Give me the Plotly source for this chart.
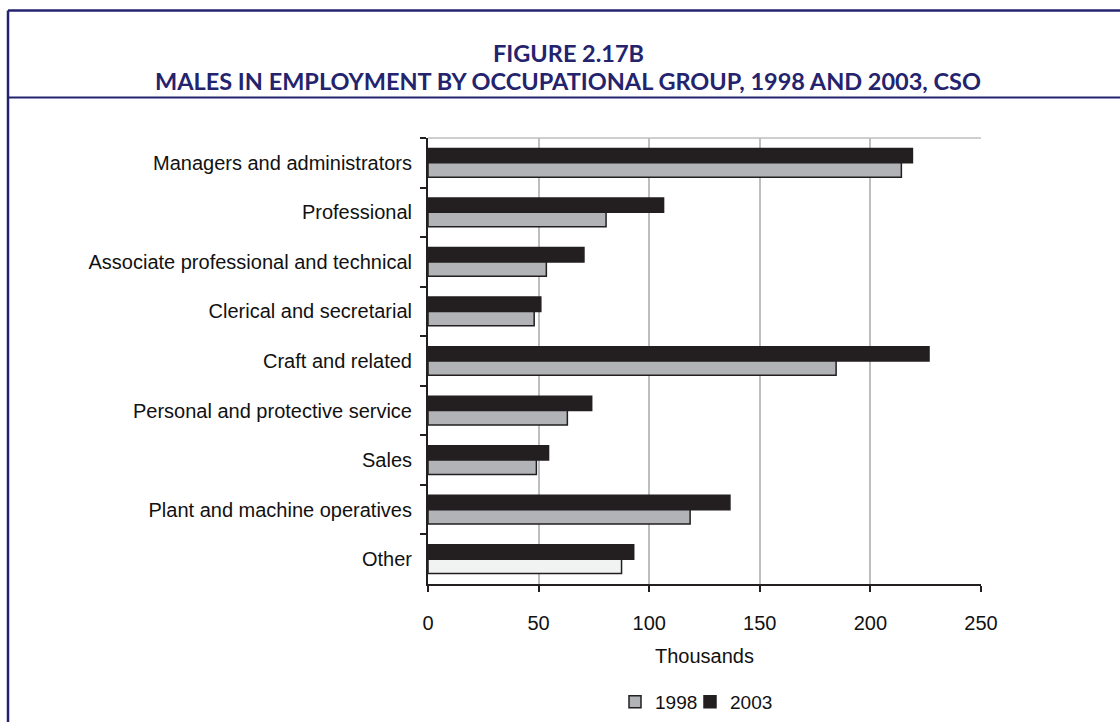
import plotly.graph_objects as go

# Occupational groups, listed top to bottom
categories = [
    "Managers and administrators",
    "Professional",
    "Associate professional and technical",
    "Clerical and secretarial",
    "Craft and related",
    "Personal and protective service",
    "Sales",
    "Plant and machine operatives",
    "Other",
]
# Males in employment, thousands
males_1998 = [214, 80.5, 53.5, 48, 184.5, 63, 49, 118.5, 87.5]
males_2003 = [219, 106.5, 70.5, 51, 226.5, 74, 54.5, 136.5, 93]
x_ticks = [0, 50, 100, 150, 200, 250]

title_line1 = "FIGURE 2.17B"
title_line2 = "MALES IN EMPLOYMENT BY OCCUPATIONAL GROUP, 1998 AND 2003, CSO"

W, H = 1120, 722
L, R, T, B = 428, 981, 138, 584  # plot area in pixels

NAVY = "#24236e"
INK = "#231f20"
GREY_BAR = "#b1b3b6"
PALE_BAR = "#f1f2f2"
GRID = "#bcbec0"
SANS = "Liberation Sans, Arial, sans-serif"
LABEL_FONT = dict(family=SANS, size=20, color="#111111")
LEGEND_FONT = dict(family=SANS, size=19, color="#111111")


def px_x(px):
    return (px - L) / (R - L)


def px_y(py):
    return (B - py) / (B - T)


colors_1998 = [GREY_BAR] * (len(categories) - 1) + [PALE_BAR]

fig = go.Figure()
# 2003 is added first so that, on the reversed category axis, it sits above 1998
fig.add_trace(go.Bar(
    y=categories, x=males_2003, name="2003", orientation="h",
    marker=dict(color=INK, line=dict(color=INK, width=1.5)),
    legend="legend2",
))
fig.add_trace(go.Bar(
    y=categories, x=males_1998, name="1998", orientation="h",
    marker=dict(color=colors_1998, line=dict(color=INK, width=1.5)),
    legend="legend",
))

shapes = [
    # light border along the top of the plot area
    dict(type="line", xref="paper", yref="paper", x0=0, x1=1, y0=1, y1=1,
         line=dict(color=GRID, width=1.5), layer="below"),
    # outer frame: top, left, and the rule under the title
    dict(type="line", xref="paper", yref="paper", x0=px_x(8), x1=px_x(1125),
         y0=px_y(10.5), y1=px_y(10.5), line=dict(color=NAVY, width=2.5)),
    dict(type="line", xref="paper", yref="paper", x0=px_x(8), x1=px_x(8),
         y0=px_y(10.5), y1=px_y(730), line=dict(color=NAVY, width=2.5)),
    dict(type="line", xref="paper", yref="paper", x0=px_x(8), x1=px_x(1125),
         y0=px_y(97.5), y1=px_y(97.5), line=dict(color=NAVY, width=1.8)),
]

TITLE_FONT = dict(family="Lato, sans-serif", size=23.5, color=NAVY)
annotations = [
    dict(text="<b>" + title_line1 + "</b>", xref="paper", yref="paper",
         x=px_x(568), y=px_y(52.8), xanchor="center", yanchor="middle", showarrow=False,
         font=TITLE_FONT),
    dict(text="<b>" + title_line2 + "</b>", xref="paper", yref="paper",
         x=px_x(568), y=px_y(81.2), xanchor="center", yanchor="middle", showarrow=False,
         font=TITLE_FONT),
]

legend_common = dict(orientation="h", xanchor="left", yanchor="middle",
                     font=LEGEND_FONT, itemwidth=30, bgcolor="rgba(0,0,0,0)")

fig.update_layout(
    width=W, height=H, autosize=False,
    margin=dict(l=L, r=W - R, t=T, b=H - B, pad=0, autoexpand=False),
    paper_bgcolor="white", plot_bgcolor="white",
    barmode="group", bargap=0.42, bargroupgap=0,
    showlegend=True,
    legend=dict(x=px_x(615), y=px_y(702), **legend_common),
    legend2=dict(x=px_x(690), y=px_y(702), **legend_common),
    shapes=shapes, annotations=annotations,
    font=LABEL_FONT,
)

fig.update_xaxes(
    range=[0, 250], tickvals=x_ticks, ticktext=[str(v) for v in x_ticks],
    showgrid=True, gridcolor=GRID, gridwidth=2, zeroline=False,
    showline=True, linecolor=INK, linewidth=2,
    ticks="outside", ticklen=6, tickwidth=2, tickcolor=INK,
    tickfont=LABEL_FONT, ticklabelstandoff=14,
    title=dict(text="Thousands", font=LABEL_FONT, standoff=16),
)
fig.update_yaxes(
    autorange="reversed", type="category",
    showgrid=False, zeroline=False,
    showline=True, linecolor=INK, linewidth=2,
    ticks="outside", ticklen=6, tickwidth=2, tickcolor=INK, tickson="boundaries",
    tickfont=LABEL_FONT, ticklabelstandoff=10,
)

fig.write_html("out.html")
